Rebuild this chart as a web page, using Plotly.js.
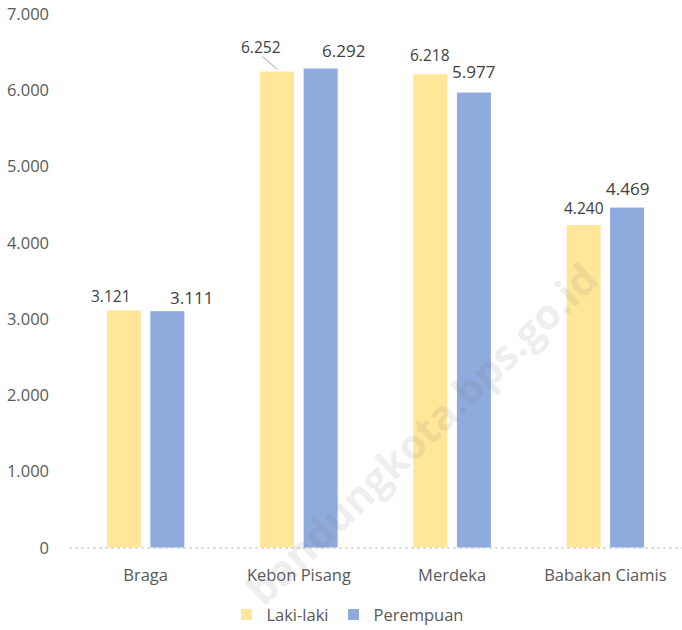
<!DOCTYPE html>
<html>
<head>
<meta charset="utf-8">
<script src="https://cdn.plot.ly/plotly-3.0.1.min.js"></script>
<style>html,body{margin:0;padding:0;background:#fff;}#chart{width:682px;height:630px;}</style>
</head>
<body>
<div id="chart"></div>
<script>
const categories = ["Braga", "Kebon Pisang", "Merdeka", "Babakan Ciamis"];
const lakiLaki = [3121, 6252, 6218, 4240];
const perempuan = [3111, 6292, 5977, 4469];
const seriesNames = ["Laki-laki", "Perempuan"];

// label offsets (pixels) relative to each bar's top centre, mimicking the original placement
const lakiShift = [[-13, 14], [-16, 24], [0, 19], [0, 17]];
const perShift = [[24, 13], [23, 18], [0, 21], [0, 19]];

const fontFam = "'Open Sans', 'Noto Sans', sans-serif";
const fmt = v => v.toLocaleString('de-DE');

const traces = [
  {type: 'bar', name: seriesNames[0], x: categories, y: lakiLaki,
   marker: {color: '#FFE699', line: {color: '#ffffff', width: 1}}, hoverinfo: 'x+y'},
  {type: 'bar', name: seriesNames[1], x: categories, y: perempuan,
   marker: {color: '#8FAADC', line: {color: '#ffffff', width: 1}}, hoverinfo: 'x+y'}
];

const half = 21.75;
const annotations = [];
categories.forEach((c, i) => {
  annotations.push({x: c, y: lakiLaki[i], xref: 'x', yref: 'y', text: fmt(lakiLaki[i]),
    showarrow: false, xshift: -half + lakiShift[i][0], yshift: lakiShift[i][1],
    font: {family: fontFam, size: 15.5, color: '#404040'}});
  annotations.push({x: c, y: perempuan[i], xref: 'x', yref: 'y', text: fmt(perempuan[i]),
    showarrow: false, xshift: half + perShift[i][0], yshift: perShift[i][1],
    font: {family: fontFam, size: 17, color: '#404040'}});
});
// watermark
annotations.push({x: 0.575, y: 0.215, xref: 'paper', yref: 'paper', xanchor: 'center', yanchor: 'middle',
  text: '<b>bandungkota.bps.go.id</b>',
  showarrow: false, textangle: -44, font: {family: "'Open Sans', sans-serif", size: 41, color: 'rgba(120,120,120,0.15)'}});

const layout = {
  width: 682, height: 630,
  margin: {l: 69, r: 0, t: 14, b: 82, autoexpand: false},
  paper_bgcolor: '#fff', plot_bgcolor: '#fff',
  separators: ',.',
  barmode: 'group', bargap: 0.432, bargroupgap: 0.195,
  font: {family: fontFam, color: '#595959', size: 16},
  xaxis: {showline: false, ticks: '', showgrid: false,
    tickfont: {family: fontFam, size: 16.5, color: '#595959'}, ticklabelstandoff: 15},
  yaxis: {range: [0, 7000], dtick: 1000, tickformat: ',.0f', showgrid: false, zeroline: false,
    showline: false, ticks: '', ticklabelstandoff: 19,
    tickfont: {family: fontFam, size: 16.5, color: '#595959'}},
  legend: {orientation: 'h', x: 0.455, xanchor: 'center', y: -0.125, yanchor: 'middle',
    font: {family: fontFam, size: 16.5, color: '#595959'}, itemwidth: 30, traceorder: 'normal'},
  shapes: [
    {type: 'line', xref: 'paper', yref: 'paper', x0: 0, y0: 0, x1: 1, y1: 0,
     line: {color: '#bfbfbf', width: 1, dash: 'dot'}},
    {type: 'line', xref: 'paper', yref: 'paper', x0: 0.316, y0: 0.92, x1: 0.34, y1: 0.896,
     line: {color: '#a6a6a6', width: 1}}
  ],
  annotations: annotations,
  showlegend: true
};

Plotly.newPlot('chart', traces, layout, {displayModeBar: false, staticPlot: true});
</script>
</body>
</html>
